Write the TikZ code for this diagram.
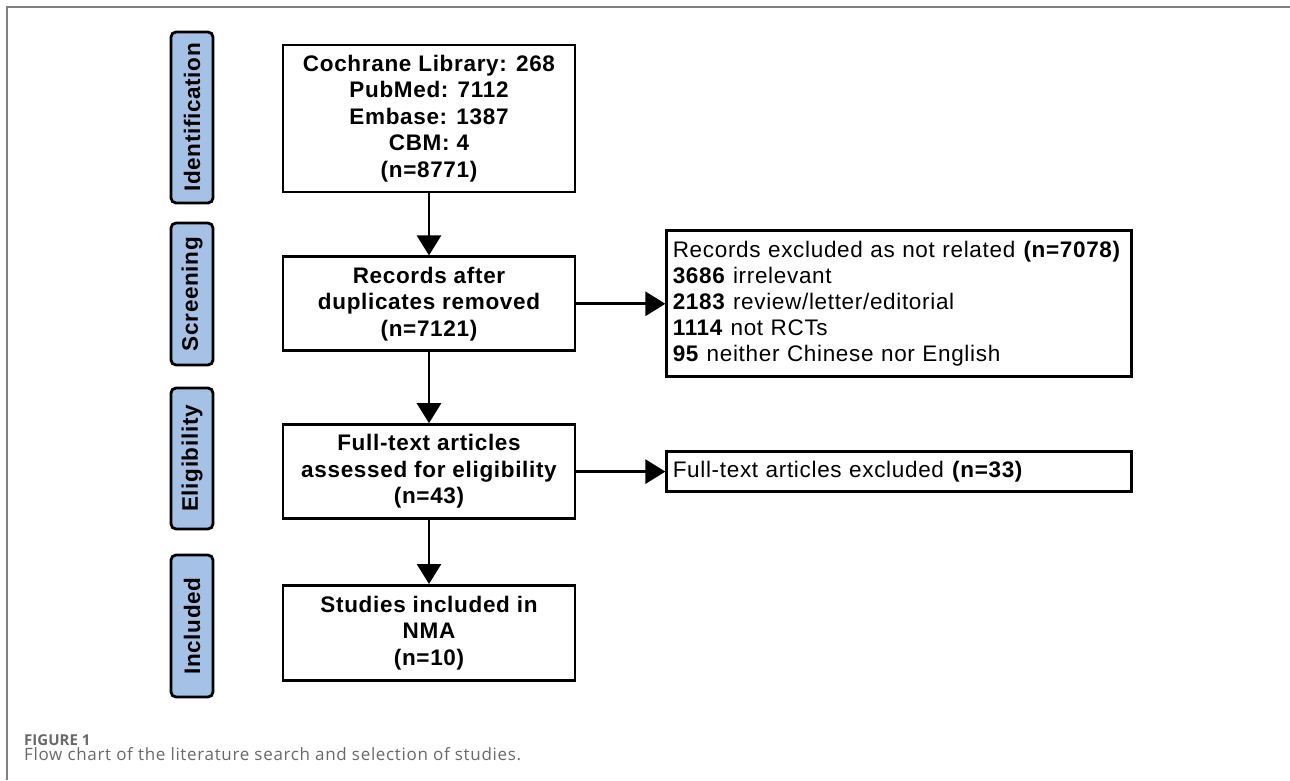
\documentclass[tikz,border=0pt]{standalone}
\usepackage{fontspec}
\usepackage{xcolor}
\usepackage{tikz}
\usetikzlibrary{arrows.meta}
\usetikzlibrary{positioning}
\setmainfont{Liberation Sans}
\newfontfamily\chartfont[LetterSpace=3]{Liberation Sans}
\newfontfamily\capfont[LetterSpace=4]{Open Sans}
\newfontfamily\figfont{Open Sans}
\definecolor{stageblue}{RGB}{165,194,230}
\definecolor{framegray}{RGB}{128,128,128}
\definecolor{capgray}{RGB}{105,105,105}

\begin{document}
\begin{tikzpicture}[x=1pt,y=-1pt,
	stage/.style={draw,line width=2.8pt,fill=stageblue,rounded corners=5pt,rotate=90,minimum height=42pt,inner sep=0pt,font=\chartfont\bfseries\fontsize{22.5}{26}\selectfont},
	flowbox/.style={draw,line width=2.8pt,minimum width=292pt,align=center,inner sep=0pt,font=\chartfont\bfseries\fontsize{22.5}{26.5}\selectfont},
	sidebox/.style={draw,line width=2.8pt,text width=453pt,inner xsep=6pt,inner ysep=0pt,align=left,font=\chartfont\fontsize{22.5}{26}\selectfont},
	flow/.style={line width=2.8pt,-{Triangle[length=20pt,width=24pt]}}]
	 \useasboundingbox (0,0) rectangle (1290,780);
	 \draw[framegray,line width=2pt] (7,780) -- (7,7) -- (1290,7);
	 % stages
	 \node[stage,minimum width=171pt] (stage1) at (192,117.5) {Identification};
	 \node[stage,minimum width=142pt] (stage2) at (192,294) {Screening};
	 \node[stage,minimum width=141pt] (stage3) at (192,458.5) {Eligibility};
	 \node[stage,minimum width=142pt] (stage4) at (192,626) {Included};
	 % main column
	 \node[flowbox,minimum height=147pt] (box1) at (429,118.5) {Cochrane Library: 268\\PubMed: 7112\\Embase: 1387\\CBM: 4\\(n=8771)};
	 \node[flowbox,minimum height=94pt,below=62pt of box1] (box2) {Records after\\duplicates removed\\(n=7121)};
	 \node[flowbox,minimum height=94pt,below=71pt of box2] (box3) {Full-text articles\\assessed for eligibility\\(n=43)};
	 \node[flowbox,minimum height=95pt,below=64pt of box3] (box4) {Studies included in\\NMA\\(n=10)};
	 % exclusions
	 \node[sidebox,minimum height=146pt,right=89pt of box2] (box5) {Records excluded as not related \textbf{(n=7078)}\\\textbf{3686} irrelevant\\\textbf{2183} review/letter/editorial\\\textbf{1114} not RCTs\\\textbf{95} neither Chinese nor English};
	 \node[sidebox,minimum height=40pt,right=89pt of box3] (box6) {Full-text articles excluded \textbf{(n=33)}};
	 \draw[flow] (box1) -- (box2);
	 \draw[flow] (box2) -- (box3);
	 \draw[flow] (box3) -- (box4);
	 \draw[flow] (box2) -- (box5);
	 \draw[flow] (box3) -- (box6);
	 % caption
	 \node[anchor=base west,inner sep=0pt,font=\figfont\bfseries\fontsize{15}{17}\selectfont,text=capgray] (fig) at (24,745) {FIGURE 1};
	 \node[anchor=base west,inner sep=0pt,font=\capfont\fontsize{17}{20}\selectfont,text=capgray] (caption) at (24,760) {Flow chart of the literature search and selection of studies.};
	 \end{tikzpicture}
\end{document}
